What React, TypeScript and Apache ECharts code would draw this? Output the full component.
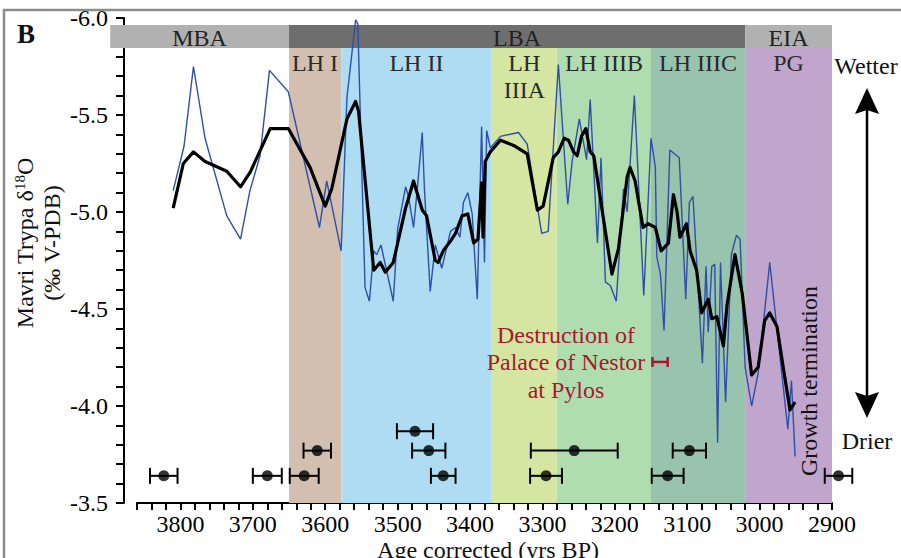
import React, { useEffect, useRef } from "react";
import * as echarts from "echarts";

// ---------- DATA ----------
const rawYears = [
  3810, 3795, 3782, 3766, 3736, 3717, 3704, 3690, 3677, 3651, 3608, 3598, 3578, 3570, 3558, 3555,
  3545, 3539, 3533, 3529, 3523, 3506, 3500, 3489, 3485, 3478, 3473, 3466, 3463, 3455, 3448, 3439,
  3427, 3420, 3414, 3409, 3403, 3397, 3390, 3384, 3380, 3377, 3372, 3358, 3333, 3321, 3301, 3292,
  3278, 3265, 3259, 3249, 3239, 3234, 3224, 3219, 3213, 3206, 3198, 3188, 3183, 3173, 3160, 3150,
  3144, 3142, 3137, 3132, 3124, 3111, 3102, 3097, 3092, 3079, 3074, 3071, 3066, 3062, 3058, 3054,
  3047, 3039, 3032, 3027, 3020, 3011, 3002, 2986, 2961, 2956, 2951,
];
const rawValues = [
  -5.11, -5.34, -5.75, -5.38, -4.98, -4.86, -5.11, -5.29, -5.73, -5.62, -4.92, -5.16, -4.8, -5.59, -5.99, -5.97,
  -4.61, -4.54, -4.8, -4.78, -4.83, -4.54, -4.91, -5.13, -5.08, -4.92, -5.11, -5.41, -5.12, -4.59, -4.83, -4.71,
  -4.9, -4.92, -4.87, -5.05, -5.1, -4.99, -4.55, -5.44, -4.74, -5.42, -5.33, -5.39, -5.41, -5.35, -4.89, -4.9,
  -5.76, -5.04, -5.26, -5.48, -5.27, -5.58, -4.84, -5.28, -4.64, -4.62, -4.54, -5.12, -5.0, -5.6, -4.57, -5.38,
  -5.23, -4.77, -4.68, -4.39, -5.32, -5.28, -4.55, -5.05, -5.08, -4.22, -4.72, -4.38, -4.72, -4.73, -3.81, -4.74,
  -4.02, -4.78, -4.88, -4.86, -4.2, -4.0, -4.17, -4.74, -3.88, -4.13, -3.74,
];
const smoothYears = [
  3810, 3796, 3782, 3766, 3736, 3717, 3703, 3676, 3651, 3621, 3600, 3591, 3570, 3558, 3554, 3533,
  3524, 3517, 3506, 3489, 3478, 3466, 3460, 3448, 3444, 3437, 3427, 3420, 3411, 3403, 3395, 3389,
  3384, 3382, 3379, 3372, 3358, 3338, 3321, 3307, 3299, 3285, 3278, 3270, 3264, 3257, 3252, 3246,
  3240, 3234, 3229, 3204, 3195, 3183, 3179, 3172, 3161, 3154, 3144, 3136, 3126, 3119, 3114, 3110,
  3101, 3096, 3087, 3080, 3071, 3066, 3059, 3050, 3045, 3034, 3024, 3011, 3002, 2993, 2986, 2976,
  2967, 2958, 2951,
];
const smoothValues = [
  -5.02, -5.25, -5.31, -5.26, -5.21, -5.13, -5.21, -5.43, -5.43, -5.23, -5.03, -5.12, -5.48, -5.57, -5.52, -4.7,
  -4.74, -4.69, -4.74, -5.02, -5.16, -5.01, -4.98, -4.75, -4.74, -4.8, -4.85, -4.89, -4.98, -4.99, -4.84, -4.86,
  -5.15, -4.87, -5.26, -5.31, -5.37, -5.34, -5.3, -5.01, -5.03, -5.28, -5.31, -5.38, -5.37, -5.31, -5.29, -5.39,
  -5.43, -5.31, -5.29, -4.68, -4.81, -5.18, -5.23, -5.16, -4.92, -4.94, -4.92, -4.8, -4.84, -5.09, -5.0, -4.87,
  -4.94, -4.8, -4.7, -4.48, -4.55, -4.45, -4.46, -4.31, -4.52, -4.78, -4.58, -4.16, -4.2, -4.44, -4.48, -4.41,
  -4.19, -3.98, -4.02,
];
const dateYears = [3823, 3680, 3629, 3611, 3476, 3457, 3437, 3256, 3295, 3097, 3127, 2891];
const dateErrors = [19, 20, 20, 19, 25, 23, 17, 60, 22, 23, 22, 19];
const dateValues = [-3.64, -3.64, -3.64, -3.77, -3.87, -3.77, -3.64, -3.77, -3.64, -3.77, -3.64, -3.64];

const eraNames = ["MBA", "LBA", "EIA"];
const eraStart = [3897, 3650, 3020];
const eraEnd = [3650, 3020, 2900];
const periodNames = ["LH I", "LH II", "LH\nIIIA", "LH IIIB", "LH IIIC", "PG"];
const periodStart = [3650, 3578, 3370, 3280, 3150, 3020];
const periodEnd = [3578, 3370, 3280, 3150, 3020, 2900];

const nestorStart = [3148];
const nestorEnd = [3127];
const nestorValue = [-4.227];

const xTickLabels = [3800, 3700, 3600, 3500, 3400, 3300, 3200, 3100, 3000, 2900];
const yTickLabels = [-6.0, -5.5, -5.0, -4.5, -4.0, -3.5];

// ---------- STYLES ----------
const FONT = '"Liberation Serif", "Times New Roman", serif';
const eraColors = ["#b1b1b1", "#6e6e6e", "#b1b1b1"];
const periodColors = ["#d3bfb0", "#aedcf2", "#d5e6a3", "#b0ddb0", "#98c3ac", "#c0a5cc"];
const RED = "#a8182c";

export default function App() {
  const ref = useRef<HTMLDivElement>(null);
  useEffect(() => {
    document.body.style.margin = "0";
    const chart = echarts.init(ref.current!, null, { renderer: "svg" });

    const bandRender = (kind: "era" | "period") => (params: any, api: any) => {
      const a = api.coord([api.value(0), -6])[0];
      const b = api.coord([api.value(1), -6])[0];
      const cs = params.coordSys;
      const x0 = Math.min(a, b);
      const w = Math.abs(b - a);
      const i = params.dataIndex;
      if (kind === "era") {
        const top = cs.y + 7;
        const h = 23;
        return {
          type: "group",
          children: [
            { type: "rect", shape: { x: x0, y: top, width: w, height: h }, style: { fill: eraColors[i] } },
            {
              type: "text",
              style: {
                text: eraNames[i], x: x0 + w / 2, y: top + h / 2 + 1, align: "center", verticalAlign: "middle",
                font: `24px ${FONT}`, fill: "#222", lineHeight: 19,
              },
            },
          ],
        };
      }
      const top = cs.y + 30;
      return {
        type: "group",
        children: [
          { type: "rect", shape: { x: x0, y: top, width: w, height: cs.y + cs.height - top }, style: { fill: periodColors[i] } },
          {
            type: "text",
            style: {
              text: periodNames[i], x: x0 + w / 2, y: top + 1, align: "center", verticalAlign: "top",
              font: `24px ${FONT}`, fill: "#2a2a2a", lineHeight: 27,
            },
          },
        ],
      };
    };

    const errRender = (color: string, cap: number, lw: number) => (params: any, api: any) => {
      const v = api.value(2);
      const p0 = api.coord([api.value(0), v]);
      const p1 = api.coord([api.value(1), v]);
      const st = { stroke: color, lineWidth: lw };
      return {
        type: "group",
        children: [
          { type: "line", shape: { x1: p0[0], y1: p0[1], x2: p1[0], y2: p1[1] }, style: st },
          { type: "line", shape: { x1: p0[0], y1: p0[1] - cap, x2: p0[0], y2: p0[1] + cap }, style: st },
          { type: "line", shape: { x1: p1[0], y1: p1[1] - cap, x2: p1[0], y2: p1[1] + cap }, style: st },
        ],
      };
    };

    const option: any = {
      animation: false,
      grid: { left: 137, right: 69, top: 18, bottom: 55, containLabel: false },
      xAxis: {
        type: "value", min: 2900, max: 3860, inverse: true, interval: 20,
        axisLine: { onZero: false, lineStyle: { color: "#000", width: 2 } },
        axisTick: { show: true, length: 7, lineStyle: { color: "#000", width: 2 } },
        axisLabel: {
          color: "#000", fontFamily: FONT, fontSize: 24, margin: 9,
          formatter: (v: number) => (xTickLabels.includes(Math.round(v)) ? String(Math.round(v)) : ""),
        },
        splitLine: { show: false },
      },
      yAxis: {
        type: "value", min: -6, max: -3.5, inverse: true, interval: 0.1, offset: 13,
        axisLine: { show: true, onZero: false, lineStyle: { color: "#000", width: 2 } },
        axisTick: { show: true, length: 8, lineStyle: { color: "#000", width: 2 } },
        axisLabel: {
          color: "#000", fontFamily: FONT, fontSize: 24, margin: 16,
          formatter: (v: number) => {
            const l = yTickLabels.find((t) => Math.abs(t - v) < 1e-6);
            return l === undefined ? "" : l.toFixed(1);
          },
        },
        splitLine: { show: false },
      },
      series: [
        {
          type: "custom", name: "periods", silent: true, clip: false, z: 1,
          renderItem: bandRender("period"),
          encode: { x: [0, 1], y: 2 },
          data: periodStart.map((s, i) => [s, periodEnd[i], -6]),
        },
        {
          type: "custom", name: "eras", silent: true, clip: false, z: 1,
          renderItem: bandRender("era"),
          encode: { x: [0, 1], y: 2 },
          data: eraStart.map((s, i) => [s, eraEnd[i], -6]),
        },
        {
          type: "line", name: "raw", showSymbol: false, z: 3, clip: false,
          lineStyle: { color: "#2f4fa8", width: 1.4 },
          data: rawYears.map((y, i) => [y, rawValues[i]]),
        },
        {
          type: "line", name: "smooth", showSymbol: false, z: 4, clip: false,
          lineStyle: { color: "#000", width: 3.2, join: "round" },
          data: smoothYears.map((y, i) => [y, smoothValues[i]]),
        },
        {
          type: "custom", name: "dateErr", clip: false, z: 5,
          renderItem: errRender("#000", 8, 2),
          encode: { x: [0, 1], y: 2 },
          data: dateYears.map((y, i) => [y + dateErrors[i], y - dateErrors[i], dateValues[i]]),
        },
        {
          type: "scatter", name: "dates", clip: false, z: 6, symbolSize: 11,
          itemStyle: { color: "#000" },
          data: dateYears.map((y, i) => [y, dateValues[i]]),
        },
        {
          type: "custom", name: "nestor", clip: false, z: 5,
          renderItem: errRender(RED, 5, 2.5),
          encode: { x: [0, 1], y: 2 },
          data: nestorStart.map((s, i) => [s, nestorEnd[i], nestorValue[i]]),
        },
      ],
      graphic: [
        { type: "polyline", z: 100, silent: true, shape: { points: [[4, 560], [4, 10], [901, 10]] }, style: { stroke: "#8c8c8c", lineWidth: 2.5, fill: "none" } },
        { type: "text", z: 100, x: 17, y: 20, style: { text: "B", font: `bold 27px ${FONT}`, fill: "#111" } },
        {
          type: "text", z: 100, x: 25, y: 243, rotation: Math.PI / 2,
          style: {
            text: "Mavri Trypa δ{sup|18}O", align: "center", verticalAlign: "middle",
            font: `24px ${FONT}`, fill: "#111",
            rich: { sup: { fontSize: 15, fontFamily: FONT, verticalAlign: "top", padding: [0, 0, 10, 0] } },
          },
        },
        {
          type: "text", z: 100, x: 52, y: 243, rotation: Math.PI / 2,
          style: { text: "(‰ V-PDB)", align: "center", verticalAlign: "middle", font: `24px ${FONT}`, fill: "#111" },
        },
        { type: "text", z: 100, x: 866, y: 66, style: { text: "Wetter", align: "center", verticalAlign: "middle", font: `24px ${FONT}`, fill: "#111" } },
        { type: "text", z: 100, x: 867, y: 441, style: { text: "Drier", align: "center", verticalAlign: "middle", font: `24px ${FONT}`, fill: "#111" } },
        { type: "line", z: 100, shape: { x1: 867, y1: 108, x2: 867, y2: 398 }, style: { stroke: "#000", lineWidth: 2.5 } },
        { type: "polygon", z: 100, shape: { points: [[867, 88], [855, 114], [867, 110], [879, 114]] }, style: { fill: "#000" } },
        { type: "polygon", z: 100, shape: { points: [[867, 418], [855, 392], [867, 396], [879, 392]] }, style: { fill: "#000" } },
        {
          type: "text", z: 100, x: 809, y: 381, rotation: Math.PI / 2,
          style: { text: "Growth termination", align: "center", verticalAlign: "middle", font: `24px ${FONT}`, fill: "#111" },
        },
        {
          type: "text", z: 100, x: 566, y: 362,
          style: {
            text: "Destruction of\nPalace of Nestor\nat Pylos", align: "center", verticalAlign: "middle",
            font: `24px ${FONT}`, fill: RED, lineHeight: 27.5,
          },
        },
        {
          type: "text", z: 100, x: 488, y: 538,
          style: { text: "Age corrected (yrs BP)", align: "center", verticalAlign: "top", font: `24px ${FONT}`, fill: "#111" },
        },
      ],
    };
    chart.setOption(option);
    return () => chart.dispose();
  }, []);
  return <div ref={ref} style={{ width: 901, height: 558 }} />;
}
